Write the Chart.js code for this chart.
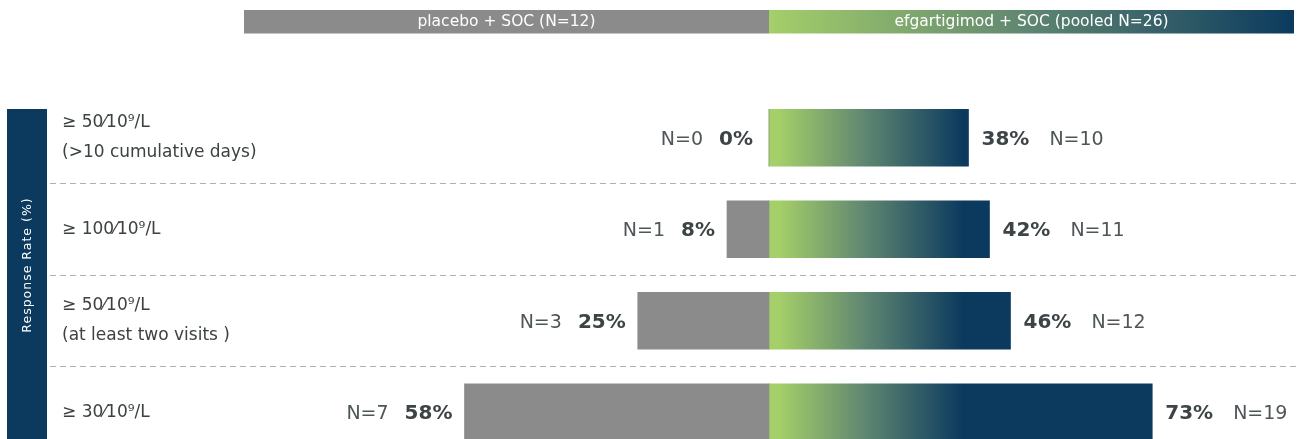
<!DOCTYPE html>
<html><head><meta charset="utf-8">
<script src="https://cdn.jsdelivr.net/npm/chart.js@4.4.1/dist/chart.umd.min.js"></script>
<style>
html,body{margin:0;padding:0;background:#fff;overflow:hidden;}
canvas{display:block;}
</style></head><body>
<canvas id="c" width="1298" height="460"></canvas>
<script>
// ---- data ----
const categories = [
  ["≥ 50⁄10⁹/L", "(>10 cumulative days)"],
  "≥ 100⁄10⁹/L",
  ["≥ 50⁄10⁹/L", "(at least two visits )"],
  "≥ 30⁄10⁹/L"
];
const placeboPct = [0, 8, 25, 58];
const pooledPct = [38, 42, 46, 73];
const placeboN = [0, 1, 3, 7];
const pooledN = [10, 11, 12, 19];
const seriesNames = ["placebo + SOC (N=12)", "efgartigimod + SOC (pooled N=26)"];
const axisTitle = "Response Rate (%)";

// ---- style ----
const FONT = "'DejaVu Sans', sans-serif";
const NAVY = '#0b3a5e', GREEN = '#a5cf69', GRAY = '#8b8b8b';
const X_MIN = -136.95, X_MAX = 100.76;
const HEADER_SPAN = 100;
const GRADIENT_END = 37;

function gradientFill(chart, from, to){
  const {ctx, chartArea, scales} = chart;
  if (!chartArea) return GREEN;
  const x0 = scales.x.getPixelForValue(from);
  const x1 = scales.x.getPixelForValue(to);
  const g = ctx.createLinearGradient(x0, 0, x1, 0);
  g.addColorStop(0, GREEN);
  g.addColorStop(0.05, GREEN);
  g.addColorStop(0.5, '#5e8571');
  g.addColorStop(1, NAVY);
  return g;
}

const decorPlugin = {
  id: 'decor',
  beforeDraw(chart){
    const {ctx, scales, chartArea} = chart;
    const xs = scales.x;
    const xl = xs.getPixelForValue(-HEADER_SPAN), x0 = xs.getPixelForValue(0), xr = xs.getPixelForValue(HEADER_SPAN);
    ctx.save();
    // header legend bars
    const hy = 10, hh = 23.5;
    ctx.fillStyle = GRAY;
    ctx.fillRect(xl, hy, x0 - xl, hh);
    const hg = ctx.createLinearGradient(x0, 0, xr, 0);
    hg.addColorStop(0, GREEN); hg.addColorStop(0.5, '#5e8571'); hg.addColorStop(1, NAVY);
    ctx.fillStyle = hg;
    ctx.fillRect(x0, hy, xr - x0, hh);
    ctx.fillStyle = '#ffffff';
    ctx.font = `15.5px ${FONT}`;
    ctx.textAlign = 'center'; ctx.textBaseline = 'middle';
    ctx.fillText(seriesNames[0], (xl + x0) / 2, hy + hh / 2);
    ctx.fillText(seriesNames[1], (x0 + xr) / 2, hy + hh / 2);
    // left title panel
    const top = chartArea.top + 17;
    ctx.fillStyle = NAVY;
    ctx.fillRect(7, top, 40, chart.height - top);
    ctx.translate(27.5, 265);
    ctx.rotate(-Math.PI / 2);
    ctx.fillStyle = '#ffffff';
    ctx.font = `12.5px ${FONT}`;
    ctx.letterSpacing = '1px';
    ctx.fillText(axisTitle, 0, 0);
    ctx.restore();
  },
  afterDatasetsDraw(chart){
    const {ctx} = chart;
    const m0 = chart.getDatasetMeta(0), m1 = chart.getDatasetMeta(1);
    ctx.save();
    ctx.textBaseline = 'middle';
    m0.data.forEach((bar, i) => {
      const y = bar.y + 2;
      let x = bar.x - (placeboPct[i] === 0 ? 16 : 12);
      ctx.textAlign = 'right';
      ctx.font = `bold 20px ${FONT}`; ctx.fillStyle = '#3d4446';
      const pct = placeboPct[i] + '%';
      ctx.fillText(pct, x, y);
      x -= ctx.measureText(pct).width + 16;
      ctx.font = `19px ${FONT}`; ctx.fillStyle = '#4f5658';
      ctx.fillText('N=' + placeboN[i], x, y);
    });
    m1.data.forEach((bar, i) => {
      const y = bar.y + 2;
      let x = bar.x + 13;
      ctx.textAlign = 'left';
      ctx.font = `bold 20px ${FONT}`; ctx.fillStyle = '#3d4446';
      const pct = pooledPct[i] + '%';
      ctx.fillText(pct, x, y);
      x += ctx.measureText(pct).width + 20;
      ctx.font = `19px ${FONT}`; ctx.fillStyle = '#4f5658';
      ctx.fillText('N=' + pooledN[i], x, y);
    });
    ctx.restore();
  }
};

new Chart(document.getElementById('c'), {
  type: 'bar',
  data: {
    labels: categories,
    datasets: [
      { label: seriesNames[0], data: placeboPct.map(v => -v), backgroundColor: GRAY, barThickness: 57, borderWidth: 0 },
      { label: seriesNames[1], data: pooledPct, backgroundColor: c => gradientFill(c.chart, 0, GRADIENT_END), barThickness: 57, borderWidth: 0 }
    ]
  },
  options: {
    indexAxis: 'y',
    responsive: false,
    animation: false,
    devicePixelRatio: 1,
    layout: { padding: { left: 50, top: 92, right: 0, bottom: 2 } },
    plugins: { legend: { display: false }, tooltip: { enabled: false } },
    scales: {
      x: { display: false, stacked: true, min: X_MIN, max: X_MAX },
      y: {
        stacked: true,
        offset: true,
        grid: {
          offset: true, drawTicks: false, lineWidth: 1,
          color: c => c.index === 0 ? 'rgba(0,0,0,0)' : '#b0b0b0'
        },
        border: { display: false, dash: [6, 4] },
        ticks: { mirror: true, padding: 12, color: '#3c4142', font: { family: FONT, size: 17, lineHeight: 1.8 } },
        afterFit: s => { s.width = 0; s.paddingTop = 0; s.paddingBottom = 0; }
      }
    }
  },
  plugins: [decorPlugin]
});
</script>
</body></html>
